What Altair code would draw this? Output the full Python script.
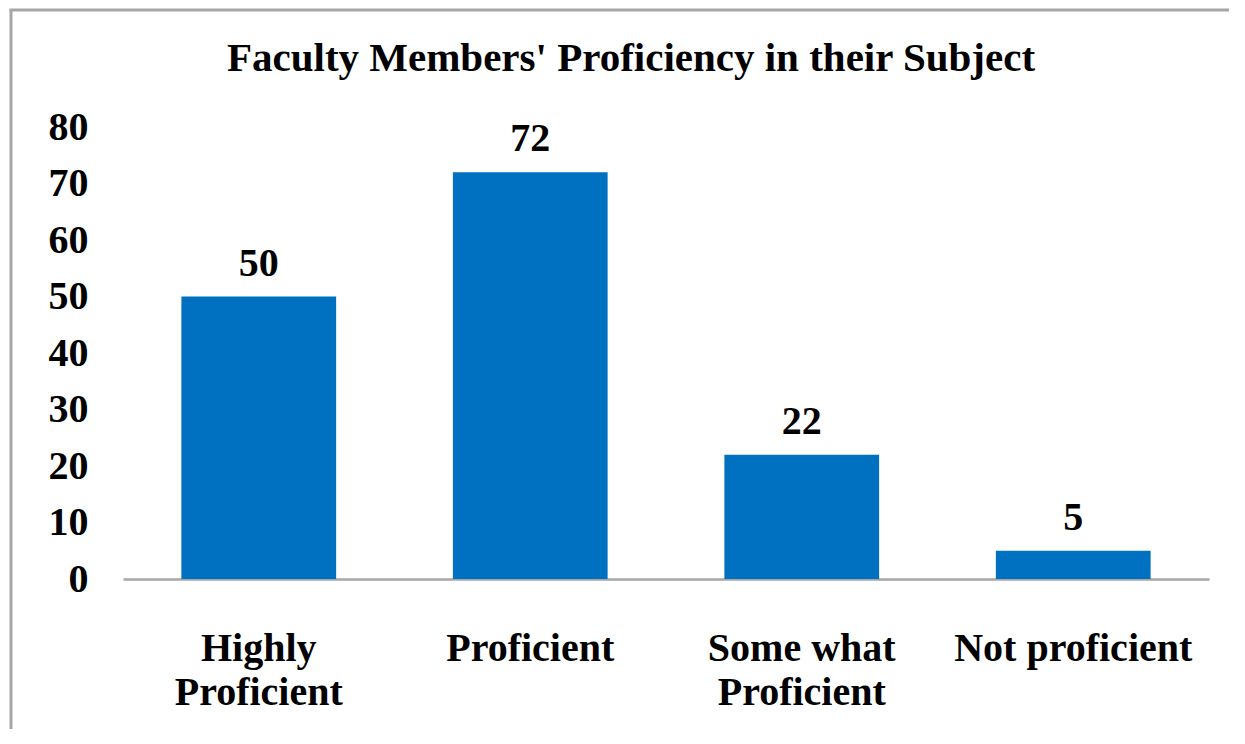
import altair as alt
import pandas as pd

categories = ["Highly\nProficient", "Proficient", "Some what\nProficient", "Not proficient"]
values = [50, 72, 22, 5]
y_ticks = [0, 10, 20, 30, 40, 50, 60, 70, 80]
title_text = "Faculty Members' Proficiency in their Subject"

df = pd.DataFrame({"category": categories, "value": values})

FONT = "Liberation Serif"
BAR = "#0070C0"
FRAME = "#a6a6a6"

x_enc = alt.X(
    "category:N",
    sort=categories,
    scale=alt.Scale(paddingInner=0.43, paddingOuter=0.215),
    axis=alt.Axis(
        title=None,
        labelAngle=0,
        labelExpr="split(datum.label, '\\n')",
        labelFont=FONT,
        labelFontSize=40,
        labelFontWeight="bold",
        labelColor="black",
        labelPadding=49,
        labelLineHeight=44,
        labelBaseline="top",
        labelLimit=0,
        ticks=False,
        tickSize=0,
        domain=True,
        domainColor=FRAME,
        domainWidth=2.5,
        grid=False,
    ),
)
y_enc = alt.Y(
    "value:Q",
    scale=alt.Scale(domain=[0, 80], nice=False),
    axis=alt.Axis(
        title=None,
        values=y_ticks,
        labelFont=FONT,
        labelFontSize=40,
        labelFontWeight="bold",
        labelColor="black",
        labelPadding=35,
        ticks=False,
        tickSize=0,
        domain=False,
        grid=False,
    ),
)

bars = alt.Chart(df).mark_bar(color=BAR).encode(x=x_enc, y=y_enc)
labels = alt.Chart(df).mark_text(
    font=FONT, fontSize=40, fontWeight="bold", color="black",
    baseline="alphabetic", dy=-21,
).encode(x=alt.X("category:N", sort=categories), y="value:Q", text="value:Q")

one = alt.Data(values=[{}])
frame_left = alt.Chart(one).mark_rule(color=FRAME, strokeWidth=3).encode(
    x=alt.value(-112), y=alt.value(-117), y2=alt.value(602)
)
frame_top = alt.Chart(one).mark_rule(color=FRAME, strokeWidth=3).encode(
    x=alt.value(-113.5), x2=alt.value(1106), y=alt.value(-117)
)

chart = alt.layer(frame_left, frame_top, bars, labels).properties(
    width=1086,
    height=452,
    padding=0,
    title=alt.TitleParams(
        text=title_text,
        font=FONT,
        fontSize=41,
        fontWeight="bold",
        color="black",
        anchor="middle",
        frame="group",
        baseline="alphabetic",
        offset=-103,
        dx=-35,
    ),
).configure(
    background="white",
    view=alt.ViewConfig(stroke="transparent", strokeWidth=0),
)

chart.save("out.html", embed_options={"renderer": "svg", "actions": False})
